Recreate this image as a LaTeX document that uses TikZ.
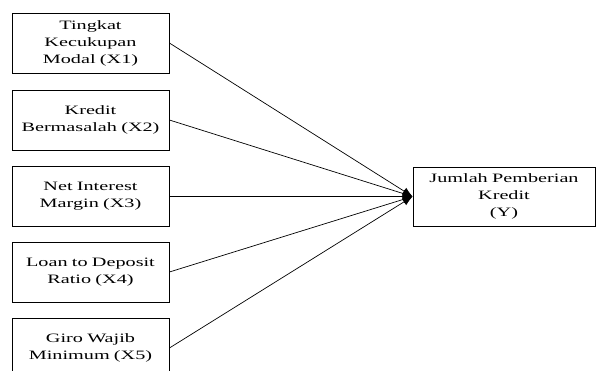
\documentclass[tikz,border=0pt]{standalone}
\usepackage{fontspec}
\setmainfont[FakeStretch=1.58]{Liberation Serif}
\usetikzlibrary{arrows.meta}
\begin{document}
\begin{tikzpicture}[x=1bp,y=-1bp,
  box/.style={draw=black,line width=0.8bp,rectangle,inner sep=0pt,
    minimum width=157bp,minimum height=60bp,text width=155bp,align=center,
    font=\fontsize{12.8bp}{17bp}\selectfont},
  ybox/.style={box,minimum width=182bp,minimum height=59bp,text width=180bp},
  link/.style={line width=0.7bp,-{Latex[length=10bp,width=8bp]}}]
\useasboundingbox (0,0) rectangle (596,370);
\node[box] (x1) at (90.5,43) {Tingkat\\Kecukupan\\Modal (X1)};
\node[box] (x2) at (90.5,120) {Kredit\\Bermasalah (X2)};
\node[box] (x3) at (90.5,196.5) {Net Interest\\Margin (X3)};
\node[box] (x4) at (90.5,272) {Loan to Deposit\\Ratio (X4)};
\node[box] (x5) at (90.5,348) {Giro Wajib\\Minimum (X5)};
\node[ybox] (y) at (504,196.5) {Jumlah Pemberian\\Kredit\\(Y)};
\coordinate (t) at (y.west);
\draw[link] (x1.east) -- (t);
\draw[link] (x2.east) -- (t);
\draw[link] (x3.east) -- (t);
\draw[link] (x4.east) -- (t);
\draw[link] (x5.east) -- (t);
\end{tikzpicture}
\end{document}
